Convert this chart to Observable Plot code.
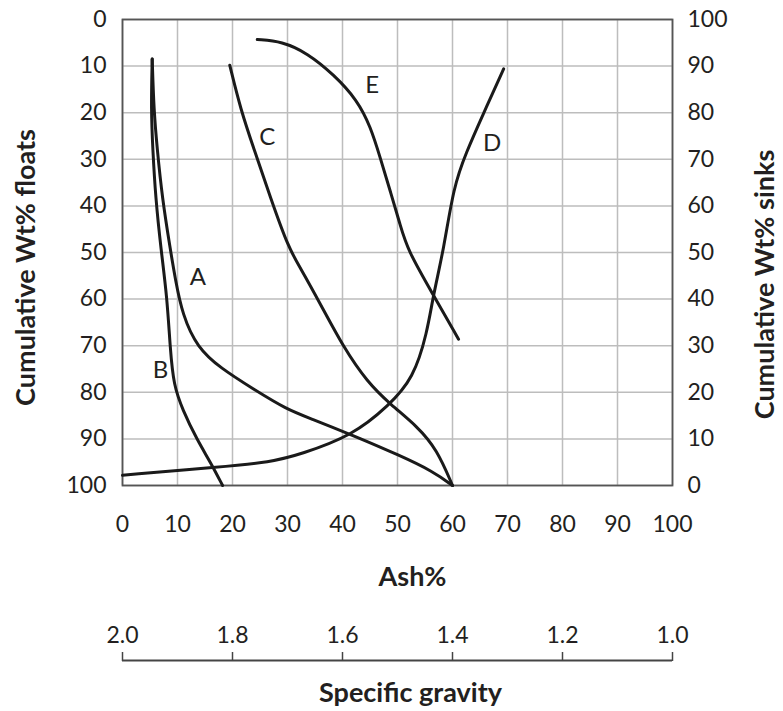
<!DOCTYPE html>
<html><head><meta charset="utf-8">
<script src="https://cdn.jsdelivr.net/npm/d3@7"></script>
<script src="https://cdn.jsdelivr.net/npm/@observablehq/plot@0.6"></script>
<style>html,body{margin:0;padding:0;background:#fff} svg{display:block}</style>
</head><body><div id="chart"></div>
<script>
// Tick values
const ashTicks = [0, 10, 20, 30, 40, 50, 60, 70, 80, 90, 100];
const floatTicks = [0, 10, 20, 30, 40, 50, 60, 70, 80, 90, 100];
const sgTicks = [2.0, 1.8, 1.6, 1.4, 1.2, 1.0];

// Curve A
const ashA = [5.4, 5.7, 6.3, 7.2, 8.7, 9.6, 10.9, 13.6, 17.8, 23.8, 29.9, 34.2, 42.0, 50.5, 56.5, 60];
const floatsA = [8.5, 19.4, 27.7, 38.1, 49.4, 55.7, 63.4, 70.4, 74.8, 79.3, 83.7, 85.6, 89.3, 93.6, 97.0, 100];
// Curve B
const ashB = [5.4, 5.2, 5.5, 6.0, 7.0, 8.1, 8.7, 9.3, 10.9, 13.6, 16.0, 18.2];
const floatsB = [8.5, 19.4, 27.7, 38.1, 49.4, 59.5, 71.1, 78.4, 83.7, 90.3, 95.0, 100];
// Curve C
const ashC = [19.5, 21.5, 23.9, 26.9, 30.2, 32.4, 36.0, 40.2, 44.5, 48.7, 53.6, 57.2, 60];
const floatsC = [9.8, 19.4, 27.8, 38.2, 49.1, 53.4, 61.1, 70.4, 77.8, 82.6, 87.3, 92.3, 100];
// Curve D
const ashD = [0, 17.8, 26.9, 32.4, 41.8, 48.4, 52.9, 55.4, 56.5, 58.4, 60.2, 62.5, 65.5, 69.3];
const floatsD = [97.8, 96.0, 95.0, 93.3, 89.3, 82.9, 77.0, 67.2, 59.1, 49.4, 35.8, 28.5, 20.5, 10.6];
// Curve E
const ashE = [24.5, 29.0, 33.6, 38.4, 42.7, 45.1, 46.9, 48.7, 50.5, 51.8, 56.5, 61.1];
const floatsE = [4.3, 4.7, 7.2, 11.8, 17.3, 23.0, 29.8, 36.9, 44.1, 49.4, 59.1, 68.6];

// Curve labels
const labelNames = ["A", "B", "C", "D", "E"];
const labelAsh = [13.7, 6.9, 26.3, 67.2, 45.4];
const labelFloats = [55.3, 75.3, 25.2, 26.5, 14.2];

const series = {A: [ashA, floatsA], B: [ashB, floatsB], C: [ashC, floatsC], D: [ashD, floatsD], E: [ashE, floatsE]};
const rows = Object.entries(series).flatMap(([curve, [xs, ys]]) => xs.map((ash, i) => ({curve, ash, floats: ys[i]})));
const labels = labelNames.map((t, i) => ({t, ash: labelAsh[i], floats: labelFloats[i]}));
const sgToAsh = sg => Math.round((2 - sg) * 1000) / 10;

const textColor = "#231f20";
const chart = Plot.plot({
  width: 783,
  height: 711,
  marginLeft: 122,
  marginRight: 111,
  marginTop: 19,
  marginBottom: 226,
  style: {fontFamily: "Lato, 'Open Sans', sans-serif", fontSize: "23px", color: textColor, background: "#fff"},
  x: {domain: [0, 100], axis: null},
  y: {domain: [0, 100], reverse: true, axis: null},
  marks: [
    Plot.gridX(ashTicks, {stroke: "#bdbdbd", strokeOpacity: 1, strokeWidth: 1.5}),
    Plot.gridY(floatTicks, {stroke: "#bdbdbd", strokeOpacity: 1, strokeWidth: 1.5}),
    Plot.frame({stroke: "#555", strokeWidth: 1.8}),
    Plot.line(rows, {x: "ash", y: "floats", z: "curve", stroke: "#1a1a1a", strokeWidth: 3, curve: "basis"}),
    Plot.text(labels, {x: "ash", y: "floats", text: "t", fontSize: 24, fill: textColor}),
    Plot.axisY(floatTicks, {anchor: "left", tickSize: 0, tickPadding: 16, fontSize: 23, label: null}),
    Plot.axisY(floatTicks, {anchor: "right", tickSize: 0, tickPadding: 15, fontSize: 23, tickFormat: d => 100 - d, label: null}),
    Plot.axisX(ashTicks, {anchor: "bottom", tickSize: 0, tickPadding: 30, fontSize: 23, label: null}),
    Plot.axisX(sgTicks.map(sgToAsh), {anchor: "top", dy: 641, tickSize: 9, tickPadding: 9, fontSize: 23, stroke: "#444", strokeWidth: 1.5, tickFormat: d => (2 - d / 100).toFixed(1), label: null}),
    Plot.ruleY([0], {x1: 0, x2: 100, dy: 641, stroke: "#444", strokeWidth: 1.8}),
    Plot.text(["Ash%"], {frameAnchor: "bottom", dx: 15, dy: 92, lineAnchor: "middle", fontSize: 27, fontWeight: "bold", fill: textColor}),
    Plot.text(["Specific gravity"], {frameAnchor: "bottom", dx: 13, dy: 208, lineAnchor: "middle", fontSize: 27, fontWeight: "bold", fill: textColor}),
    Plot.text(["Cumulative Wt% floats"], {frameAnchor: "left", dx: -96, dy: 15, rotate: -90, textAnchor: "middle", lineAnchor: "middle", fontSize: 27, fontWeight: "bold", fill: textColor}),
    Plot.text(["Cumulative Wt% sinks"], {frameAnchor: "right", dx: 93, dy: 32, rotate: -90, textAnchor: "middle", lineAnchor: "middle", fontSize: 27, fontWeight: "bold", fill: textColor})
  ]
});
document.getElementById("chart").appendChild(chart);
</script>
</body></html>
